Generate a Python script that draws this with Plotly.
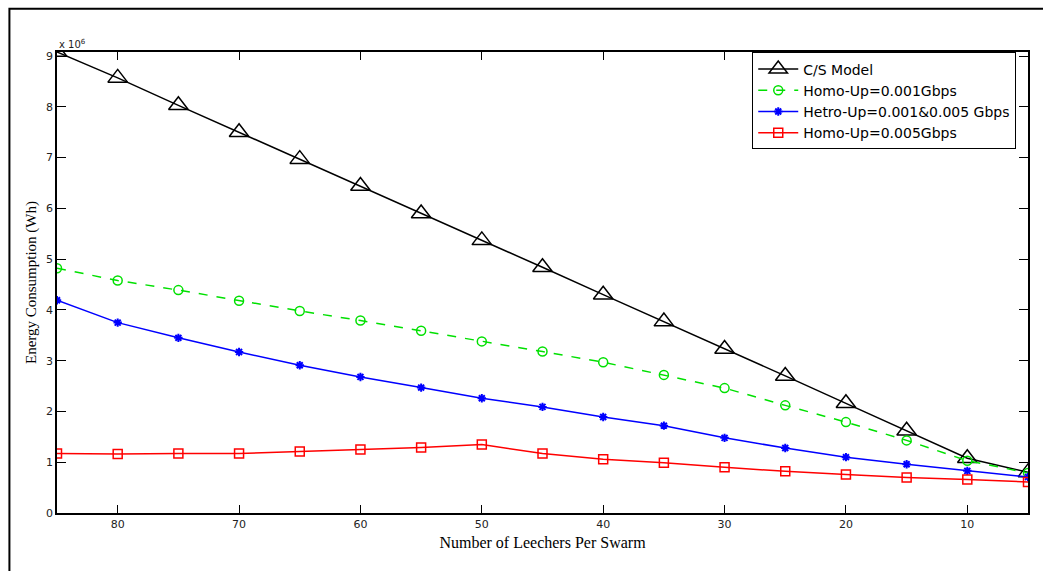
import plotly.graph_objects as go

leechers = [85, 80, 75, 70, 65, 60, 55, 50, 45, 40, 35, 30, 25, 20, 15, 10, 5]
cs_model = [9.08, 8.57, 8.03, 7.50, 6.97, 6.44, 5.90, 5.37, 4.84, 4.30, 3.77, 3.23, 2.70, 2.16, 1.62, 1.08, 0.80]
homo_001 = [4.82, 4.58, 4.39, 4.18, 3.98, 3.79, 3.59, 3.38, 3.18, 2.97, 2.72, 2.46, 2.12, 1.79, 1.43, 1.03, 0.79]
hetro = [4.19, 3.75, 3.45, 3.17, 2.91, 2.68, 2.47, 2.26, 2.09, 1.89, 1.72, 1.48, 1.28, 1.10, 0.96, 0.83, 0.71]
homo_005 = [1.17, 1.16, 1.17, 1.17, 1.21, 1.25, 1.29, 1.35, 1.17, 1.06, 0.99, 0.90, 0.82, 0.76, 0.70, 0.66, 0.61]
scale = 1e6

y_ticks = [0, 1, 2, 3, 4, 5, 6, 7, 8, 9]
x_ticks = [80, 70, 60, 50, 40, 30, 20, 10]

fig = go.Figure()
fig.add_trace(go.Scatter(x=leechers, y=[v * scale for v in cs_model], name="C/S Model",
                         mode="lines+markers",
                         line=dict(color="black", width=1.5),
                         marker=dict(symbol="triangle-up-open", size=17, color="black",
                                     line=dict(width=1.5, color="black"))))
fig.add_trace(go.Scatter(x=leechers, y=[v * scale for v in homo_001], name="Homo-Up=0.001Gbps",
                         mode="lines+markers",
                         line=dict(color="#00e000", width=1.5, dash="dash"),
                         marker=dict(symbol="circle-open", size=9, color="#00e000",
                                     line=dict(width=1.5, color="#00e000"))))
fig.add_trace(go.Scatter(x=leechers, y=[v * scale for v in hetro], name="Hetro-Up=0.001&0.005 Gbps",
                         mode="lines+markers",
                         line=dict(color="#0000ff", width=1.5),
                         marker=dict(symbol="asterisk-open", size=7, color="#0000ff",
                                     line=dict(width=2, color="#0000ff"))))
fig.add_trace(go.Scatter(x=leechers, y=[v * scale for v in homo_005], name="Homo-Up=0.005Gbps",
                         mode="lines+markers",
                         line=dict(color="#ff0000", width=1.5),
                         marker=dict(symbol="square-open", size=9, color="#ff0000",
                                     line=dict(width=1.5, color="#ff0000"))))

axis_font = dict(family="DejaVu Sans, Arial", size=11, color="#222")
fig.update_layout(
    width=1043, height=571,
    margin=dict(l=57, r=15, t=52, b=58),
    paper_bgcolor="white", plot_bgcolor="white",
    showlegend=True,
    legend=dict(x=0.716, y=0.999, xanchor="left", yanchor="top",
                bgcolor="white", bordercolor="black", borderwidth=1,
                font=dict(family="DejaVu Sans, Arial", size=14, color="black"),
                tracegroupgap=0, itemwidth=40),
    xaxis=dict(range=[85, 5], tickvals=x_ticks, ticktext=[str(t) for t in x_ticks],
               ticks="inside", ticklen=8, tickcolor="black", showline=True,
               linecolor="black", linewidth=1.5, mirror="ticks", showgrid=False,
               zeroline=False, tickfont=axis_font,
               title=dict(text="Number of Leechers Per Swarm",
                          font=dict(family="Liberation Serif, Times New Roman", size=16, color="black"),
                          standoff=7)),
    yaxis=dict(range=[0, 9.08e6], tickvals=[t * scale for t in y_ticks],
               ticktext=[str(t) for t in y_ticks],
               ticks="inside", ticklen=9, tickcolor="black", showline=True,
               linecolor="black", linewidth=1.5, mirror="ticks", showgrid=False,
               zeroline=False, tickfont=axis_font,
               title=dict(text="Energy Consumption (Wh)",
                          font=dict(family="Liberation Serif, Times New Roman", size=15, color="black"),
                          standoff=6)),
    shapes=[dict(type="rect", xref="paper", yref="paper",
                 x0=-0.049, y0=-0.2, x1=1.1, y1=1.094,
                 line=dict(color="black", width=2), fillcolor="rgba(0,0,0,0)", layer="below")],
    annotations=[dict(text="x 10<sup>6</sup>", xref="paper", yref="paper", x=0.0, y=1.0,
                      xanchor="left", yanchor="bottom", showarrow=False,
                      font=dict(family="DejaVu Sans, Arial", size=10, color="#222"))],
)

fig.write_html("out.html")
